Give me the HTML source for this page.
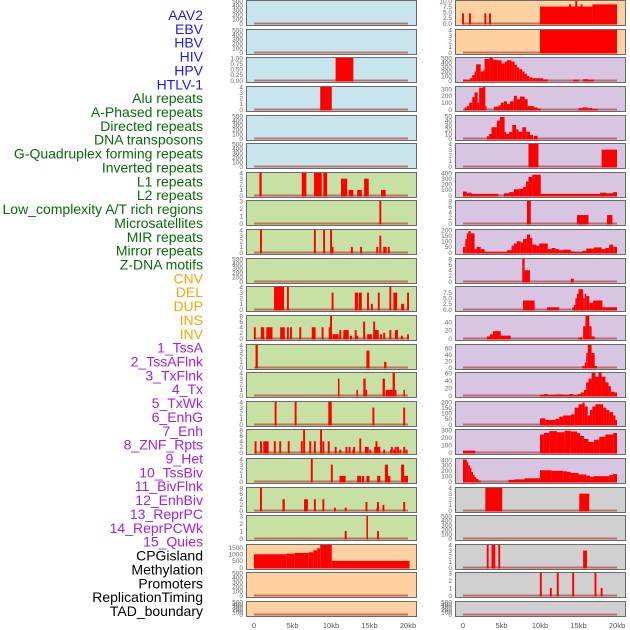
<!DOCTYPE html>
<html><head><meta charset="utf-8">
<style>
html,body{margin:0;padding:0;background:#fff;width:630px;height:630px;overflow:hidden}
svg{display:block}
.lab{font-family:"Liberation Sans",sans-serif;font-size:14px}
.tk{font-family:"Liberation Sans",sans-serif;font-size:6.5px;fill:#666}
.xt{font-family:"Liberation Sans",sans-serif;font-size:7.5px;fill:#555}
</style></head>
<body>
<svg id="chart" width="630" height="630" viewBox="0 0 630 630" xmlns="http://www.w3.org/2000/svg"></svg>
<script>
// ---- data ----
const labelNames=["AAV2","EBV","HBV","HIV","HPV","HTLV-1","Alu repeats","A-Phased repeats","Directed repeats","DNA transposons","G-Quadruplex forming repeats","Inverted repeats","L1 repeats","L2 repeats","Low_complexity A/T rich regions","Microsatellites","MIR repeats","Mirror repeats","Z-DNA motifs","CNV","DEL","DUP","INS","INV","1_TssA","2_TssAFlnk","3_TxFlnk","4_Tx","5_TxWk","6_EnhG","7_Enh","8_ZNF_Rpts","9_Het","10_TssBiv","11_BivFlnk","12_EnhBiv","13_ReprPC","14_ReprPCWk","15_Quies","CPGisland","Methylation","Promoters","ReplicationTiming","TAD_boundary"];
const labelGroups=[0,0,0,0,0,0,1,1,1,1,1,1,1,1,1,1,1,1,1,2,2,2,2,2,3,3,3,3,3,3,3,3,3,3,3,3,3,3,3,4,4,4,4,4];
const groupColors=["#1a1aff","#0a6a0a","#ffa500","#a020f0","#000000"];
const xTickValues=[0,5,10,15,20];
const xTickLabels=["0","5kb","10kb","15kb","20kb"];
const T500=["0","100","200","300","400","500"];
const leftYmax=[500,500,1,4,500,500,4,3,4,500,4,8,4,4,4,8,4,8,3,1700,500,500];
const leftTicks=[T500,T500,["0.00","0.25","0.50","0.75","1.00"],["0","1","2","3","4"],T500,T500,
["0","1","2","3","4"],["0","1","2","3"],["0","1","2","3","4"],T500,["0","1","2","3","4"],["0","2","4","6","8"],
["0","1","2","3","4"],["0","1","2","3","4"],["0","1","2","3","4"],["0","2","4","6","8"],["0","1","2","3","4"],["0","2","4","6","8"],["0","1","2","3"],
["0","500","1000","1500"],T500,T500];
const leftTickVals=[null,null,[0,0.25,0.5,0.75,1],null,null,null,null,null,null,null,null,null,null,null,null,null,null,null,null,[0,500,1000,1500],null,null];
const leftBg=[0,0,0,0,0,0,1,1,1,1,1,1,1,1,1,1,1,1,1,2,2,2];
const leftBars=[
[],[],[[10.6,12.9,1]],[[8.6,10.1,4]],[],[],
[[0.7,1.0,4],[6.2,6.8,4],[7.8,8.8,4],[9.0,9.5,4],[11.3,12.1,3],[12.3,12.9,1],[13.4,14.0,1],[14.3,14.9,3],[16.5,17.1,1]],
[[16.4,3]],
[[0.9,4],[7.9,4],[9.1,4],[10.0,4],[10.2,1],[12.7,1],[13.9,1],[16.0,1],[16.4,3],[16.9,1],[17.1,1],[17.5,1]],
[],
[[2.6,3.9,4],[4.4,4],[10.2,3],[13.1,13.5,3],[13.6,14.0,3],[14.8,3],[15.3,1],[16.2,3],[17.7,4],[18.1,18.6,3],[19.1,19.5,1],[20.0,3]],
[[0.1,4],[1.0,4],[1.2,4],[1.6,2.4,4],[3.4,4.0,4],[4.4,4],[4.8,4],[6.0,4],[7.5,8.0,4],[8.9,4],[9.7,9.9,4],[10.0,8],[10.2,11.0,1.5],[11.2,3],[11.6,12.3,3],[12.6,1],[13.2,3],[13.4,1],[14.3,6],[14.7,15.3,1.5],[15.6,6],[15.7,16.2,3],[16.5,1.5],[16.9,2],[17.7,3],[18.3,18.7,3],[19.2,1],[20.0,1.5]],
[[0.2,0.5,4],[14.6,15.0,3],[16.9,17.2,1]],
[[10.9,11.1,3],[13.3,13.5,1],[14.2,14.5,3],[14.5,14.7,1],[16.7,17.0,3],[17.1,17.6,1],[17.6,18.0,1],[18.0,18.3,4],[18.3,18.5,1],[19.4,19.6,1]],
[[2.8,4],[5.4,4],[9.65,10.1,4],[15.5,3],[19.5,3]],
[[0.2,4],[0.9,4],[1.2,1.9,4],[2.7,4],[3.4,4],[4.5,4],[6.2,4],[6.5,8],[7.3,4],[7.9,4],[8.7,8],[9.0,4],[9.7,4],[10.6,2],[11.2,1],[12.0,2],[12.4,2],[12.9,1],[13.0,2],[13.8,5],[14.4,14.9,2],[15.1,1],[15.6,16.4,2],[15.9,4],[16.9,1],[17.8,1],[17.9,2],[18.2,1],[18.4,2],[18.7,2],[19.0,1],[19.5,2],[19.8,1]],
[[7.5,4],[10.1,3],[11.1,11.9,1],[13.4,13.9,1],[14.0,14.3,1],[14.6,15.0,1],[16.0,16.4,1],[17.0,17.4,3],[17.4,17.7,1],[19.1,19.5,3],[19.5,20.0,1]],
[[0.9,8],[3.7,4.0,4],[6.5,7.0,4],[7.9,4],[9.0,4],[10.5,1],[11.9,1],[14.6,3],[15.9,16.2,1],[16.1,3],[16.8,2],[19.5,3]],
[[11.9,1],[14.6,14.8,3],[16.1,1]],
[[0,4.2,1000],[4.2,5.3,1050],[5.3,7.1,1100],[7.1,7.7,1150],[7.7,8.2,1300],[8.2,8.6,1450],[8.6,10.1,1700],[10.1,20.2,500]],
[],[]];
const rightYmax=[10,4,500,330,50,4,400,8,200,8,10,55,70,60,200,300,420,4,500,4,3,500];
const rightTicks=[["0.0","2.5","5.0","7.5","10.0"],["0","1","2","3","4"],T500,["0","100","200","300"],["0","10","20","30","40","50"],["0","1","2","3","4"],
["0","100","200","300","400"],["0","2","4","6","8"],["0","50","100","150","200"],["0","2","4","6","8"],["0.0","2.5","5.0","7.5"],["0","20","40"],["0","20","40","60"],["0","20","40","60"],
["0","50","100","150","200"],["0","100","200","300"],["0","100","200","300","400"],["0","1","2","3","4"],T500,["0","1","2","3","4"],["0","1","2","3"],T500];
const rightBg=[2,2,3,3,3,3,3,3,3,3,3,3,3,3,3,3,3,4,4,4,4,4];
const rightBars=[
[[0.0,4.5],[0.9,4.5],[2.9,4.5],[3.5,4.5],[10.0,16.8,7.5],[16.8,20.0,8.5],[13.9,8.5],[14.7,10],[15.4,8.5]],
[[10.0,20.0,4]],
[[0,0.9,20],[0.9,1.2,50],[1.2,1.5,120],[1.5,1.7,200],[1.7,2.3,360],[2.3,2.6,200],[2.6,2.8,220],[2.8,3.4,480],[3.4,3.9,500],[3.9,4.5,460],[4.5,5.0,450],[5.0,5.4,380],[5.4,5.7,420],[5.7,6.3,450],[6.3,6.7,420],[6.7,7.0,350],[7.0,7.3,290],[7.3,7.7,250],[7.7,8.0,200],[8.0,8.3,150],[8.3,8.6,100],[8.6,9.0,70],[9.0,10.4,50],[10.4,11.0,25],[14.3,15.0,20],[15.6,16.2,30],[16.2,17.0,20]],
[[0.2,0.5,30],[0.5,0.8,50],[0.8,1.2,100],[1.2,1.5,180],[1.5,1.9,250],[1.9,2.1,100],[2.1,2.6,320],[2.6,2.9,330],[2.9,3.0,50],[4.0,4.6,40],[4.6,4.9,60],[4.9,5.3,100],[5.3,5.7,120],[5.7,6.1,80],[6.1,6.6,120],[6.6,7.0,200],[7.0,7.4,150],[7.4,8.0,190],[8.0,8.4,150],[8.4,9.2,50],[9.2,9.7,30],[9.7,10.1,15],[15.0,15.5,20],[15.5,16.2,30],[16.2,16.8,20],[16.8,17.5,10]],
[[3.1,3.4,5],[3.4,3.7,10],[3.7,4.4,25],[4.4,4.8,40],[4.8,5.4,48],[5.4,5.6,15],[5.6,6.0,10],[6.0,6.4,15],[6.4,6.9,30],[6.9,7.2,20],[7.2,7.7,15],[7.7,8.2,25],[8.2,8.7,15],[8.7,9.1,8],[9.2,9.7,6]],
[[8.5,9.8,4],[18.0,20.0,3]],
[[0,0.5,70],[0.5,0.7,40],[0.7,1.1,50],[1.1,4.6,30],[5.3,6.0,40],[6.0,6.6,60],[6.6,7.3,110],[7.3,7.8,120],[7.8,8.2,150],[8.2,8.5,250],[8.5,9.0,330],[9.0,10.1,370],[10.1,17.8,30],[17.8,18.6,50],[18.6,19.5,40],[19.5,20,60]],
[[8.3,8.8,8],[14.8,16.3,3],[18.7,19.4,3]],
[[0,0.3,50],[0.3,0.5,120],[0.5,0.7,170],[0.7,1.0,190],[1.0,1.5,170],[1.5,1.8,30],[1.8,2.3,50],[2.3,2.8,30],[2.8,5.7,5],[5.7,6.3,20],[6.3,6.6,60],[6.6,7.0,80],[7.0,7.5,100],[7.5,7.8,90],[7.8,8.3,120],[8.3,8.7,160],[8.7,9.0,130],[9.0,9.5,70],[9.5,9.9,60],[9.9,11.0,80],[11.0,11.5,30],[11.5,12.0,40],[12.0,12.5,30],[12.5,13.0,20],[13.0,14.0,25],[14.0,14.5,10],[14.5,15.5,5],[15.5,16.0,15],[16.0,17.0,35],[17.0,18.0,45],[18.0,18.5,30],[18.5,19.0,40],[19.0,19.5,70],[19.5,20,50]],
[[7.7,8.0,8],[8.0,8.7,4],[14.0,14.4,1]],
[[7.8,9.3,4],[10.9,12.5,1],[14.2,14.4,1],[14.4,14.6,2],[14.6,14.8,5],[14.8,15.0,7],[15.0,15.6,9],[15.6,15.8,5],[15.8,16.0,7],[16.0,16.4,6],[16.4,16.9,3],[16.9,18.1,4],[18.1,20,1]],
[[3.1,3.5,5],[3.5,3.9,10],[3.9,4.9,18],[4.9,6.2,7],[15.0,15.5,3],[15.6,15.9,30],[15.9,16.4,55],[16.4,16.7,30],[16.7,17.1,5]],
[[15.5,15.8,5],[15.8,16.0,15],[16.0,16.2,45],[16.2,16.7,70],[16.7,17.1,45],[17.1,17.4,5]],
[[10.0,10.5,2],[10.5,11.0,4],[11.0,12.0,2],[12.0,13.0,3],[13.0,13.8,2],[13.8,14.3,4],[14.3,14.9,1],[14.9,15.3,4],[15.3,15.7,8],[15.7,16.0,15],[16.0,16.3,35],[16.3,16.7,45],[16.7,17.2,60],[17.2,17.6,50],[17.6,18.0,60],[18.0,18.5,50],[18.5,18.9,35],[18.9,19.2,25],[19.2,19.7,10],[19.7,20,8]],
[[10.0,10.7,55],[10.7,12.0,40],[12.0,12.5,50],[12.5,13.0,70],[13.0,14.0,80],[14.0,14.5,90],[14.5,15.0,150],[15.0,15.5,180],[15.5,15.8,195],[15.8,16.2,160],[16.2,16.5,80],[16.5,16.8,130],[16.8,17.2,160],[17.2,18.2,180],[18.2,18.6,150],[18.6,19.0,130],[19.0,19.5,110],[19.5,19.8,80],[19.8,20,40]],
[[0,1.6,25],[10.0,10.5,240],[10.5,11.2,260],[11.2,12.2,285],[12.2,13.2,270],[13.2,14.0,290],[14.0,14.8,280],[14.8,15.2,260],[15.2,15.7,220],[15.7,16.3,180],[16.3,17.0,140],[17.0,17.7,170],[17.7,18.5,210],[18.5,19.5,240],[19.5,20,260]],
[[0,0.5,410],[0.5,0.7,360],[0.7,0.9,300],[0.9,1.1,250],[1.1,1.3,180],[1.3,1.5,120],[1.5,1.7,80],[1.7,2.0,50],[2.0,2.3,20],[5.9,6.7,30],[6.7,8.0,40],[8.0,10.0,60],[10.0,11.5,210],[11.5,13.0,200],[13.0,13.5,190],[13.5,14.0,180],[14.0,15.0,160],[15.0,16.0,130],[16.0,16.5,110],[16.5,17.0,90],[17.0,19.0,100],[19.0,19.5,120],[19.5,20,140]],
[[2.9,5.1,4],[15.1,16.4,3]],
[],
[[3.2,4],[3.7,4.2,4],[4.7,4],[15.6,16.1,3]],
[[10.1,3],[11.4,1],[12.3,3],[14.3,3],[17.2,3],[18.0,1]],
[]];
// ---- layout ----
const bgColors=["#c8e4ec","#c7e0a4","#ffd0a0","#d8c5e2","#d0d0d0"];
const rowTops=[0,29,57,86,115,143,172,200,229,258,286,315,344,372,401,429,458,487,515,544,572,601];
const cols=[{x:246,w:170,x0:254},{x:455,w:170,x0:463}];
const pxPerKb=7.7;
const NS="http://www.w3.org/2000/svg";
const svg=document.getElementById('chart');
function mk(tag,attrs,parent){const e=document.createElementNS(NS,tag);for(const k in attrs)e.setAttribute(k,attrs[k]);(parent||svg).appendChild(e);return e;}
function xScale(col,kb){return cols[col].x0+kb*pxPerKb;}

// labels
labelNames.forEach((n,i)=>{
  const t=mk('text',{x:203,y:20+i*13.86,'text-anchor':'end',class:'lab',fill:groupColors[labelGroups[i]]});
  t.textContent=n;
  
  
});

function drawPanel(col,r,ymax,ticks,tickVals,bgIdx,bars){
  const c=cols[col];
  const top=rowTops[r];
  const h=(r===rowTops.length-1)?15:25;
  const g=mk('g',{});
  
  
  mk('rect',{x:c.x+0.5,y:top+0.5,width:c.w,height:h,fill:bgColors[bgIdx],stroke:'#6a6a6a','stroke-width':1},g);
  const base=top+h-1.5;
  const span=h-2.5;
  function yScale(v){return base-v/ymax*span;}
  // baseline
  const bl=mk('line',{x1:xScale(col,0),x2:xScale(col,20),y1:base,y2:base,stroke:'rgba(170,30,30,0.55)','stroke-width':2},g);
  
  
  // bars
  bars.forEach(b=>{
    let s,e,v;
    if(b.length===2){s=b[0]-0.12;e=b[0]+0.13;v=b[1];}else{s=b[0];e=b[1];v=b[2];}
    const x1=xScale(col,s),x2=xScale(col,e);
    const rc=mk('rect',{x:x1,y:yScale(v),width:Math.max(1.2,x2-x1),height:base-yScale(v)+1,fill:'#ff0000'},g);
    
    
  });
  // ticks
  ticks.forEach((lab,i)=>{
    const val=tickVals?tickVals[i]:parseFloat(lab);
    const t=mk('text',{x:c.x-3,y:yScale(val)+2.3,'text-anchor':'end',class:'tk'},g);
    t.textContent=lab;
    
    
  });
}
for(let r=0;r<rowTops.length;r++){
  drawPanel(0,r,leftYmax[r],leftTicks[r],leftTickVals[r],leftBg[r],leftBars[r]);
  drawPanel(1,r,rightYmax[r],rightTicks[r],null,rightBg[r],rightBars[r]);
}
// x axes
[0,1].forEach(col=>{
  xTickValues.forEach((v,i)=>{
    const t=mk('text',{x:xScale(col,v),y:628,'text-anchor':'middle',class:'xt'});
    t.textContent=xTickLabels[i];
    
    
  });
});
</script>
</body></html>
